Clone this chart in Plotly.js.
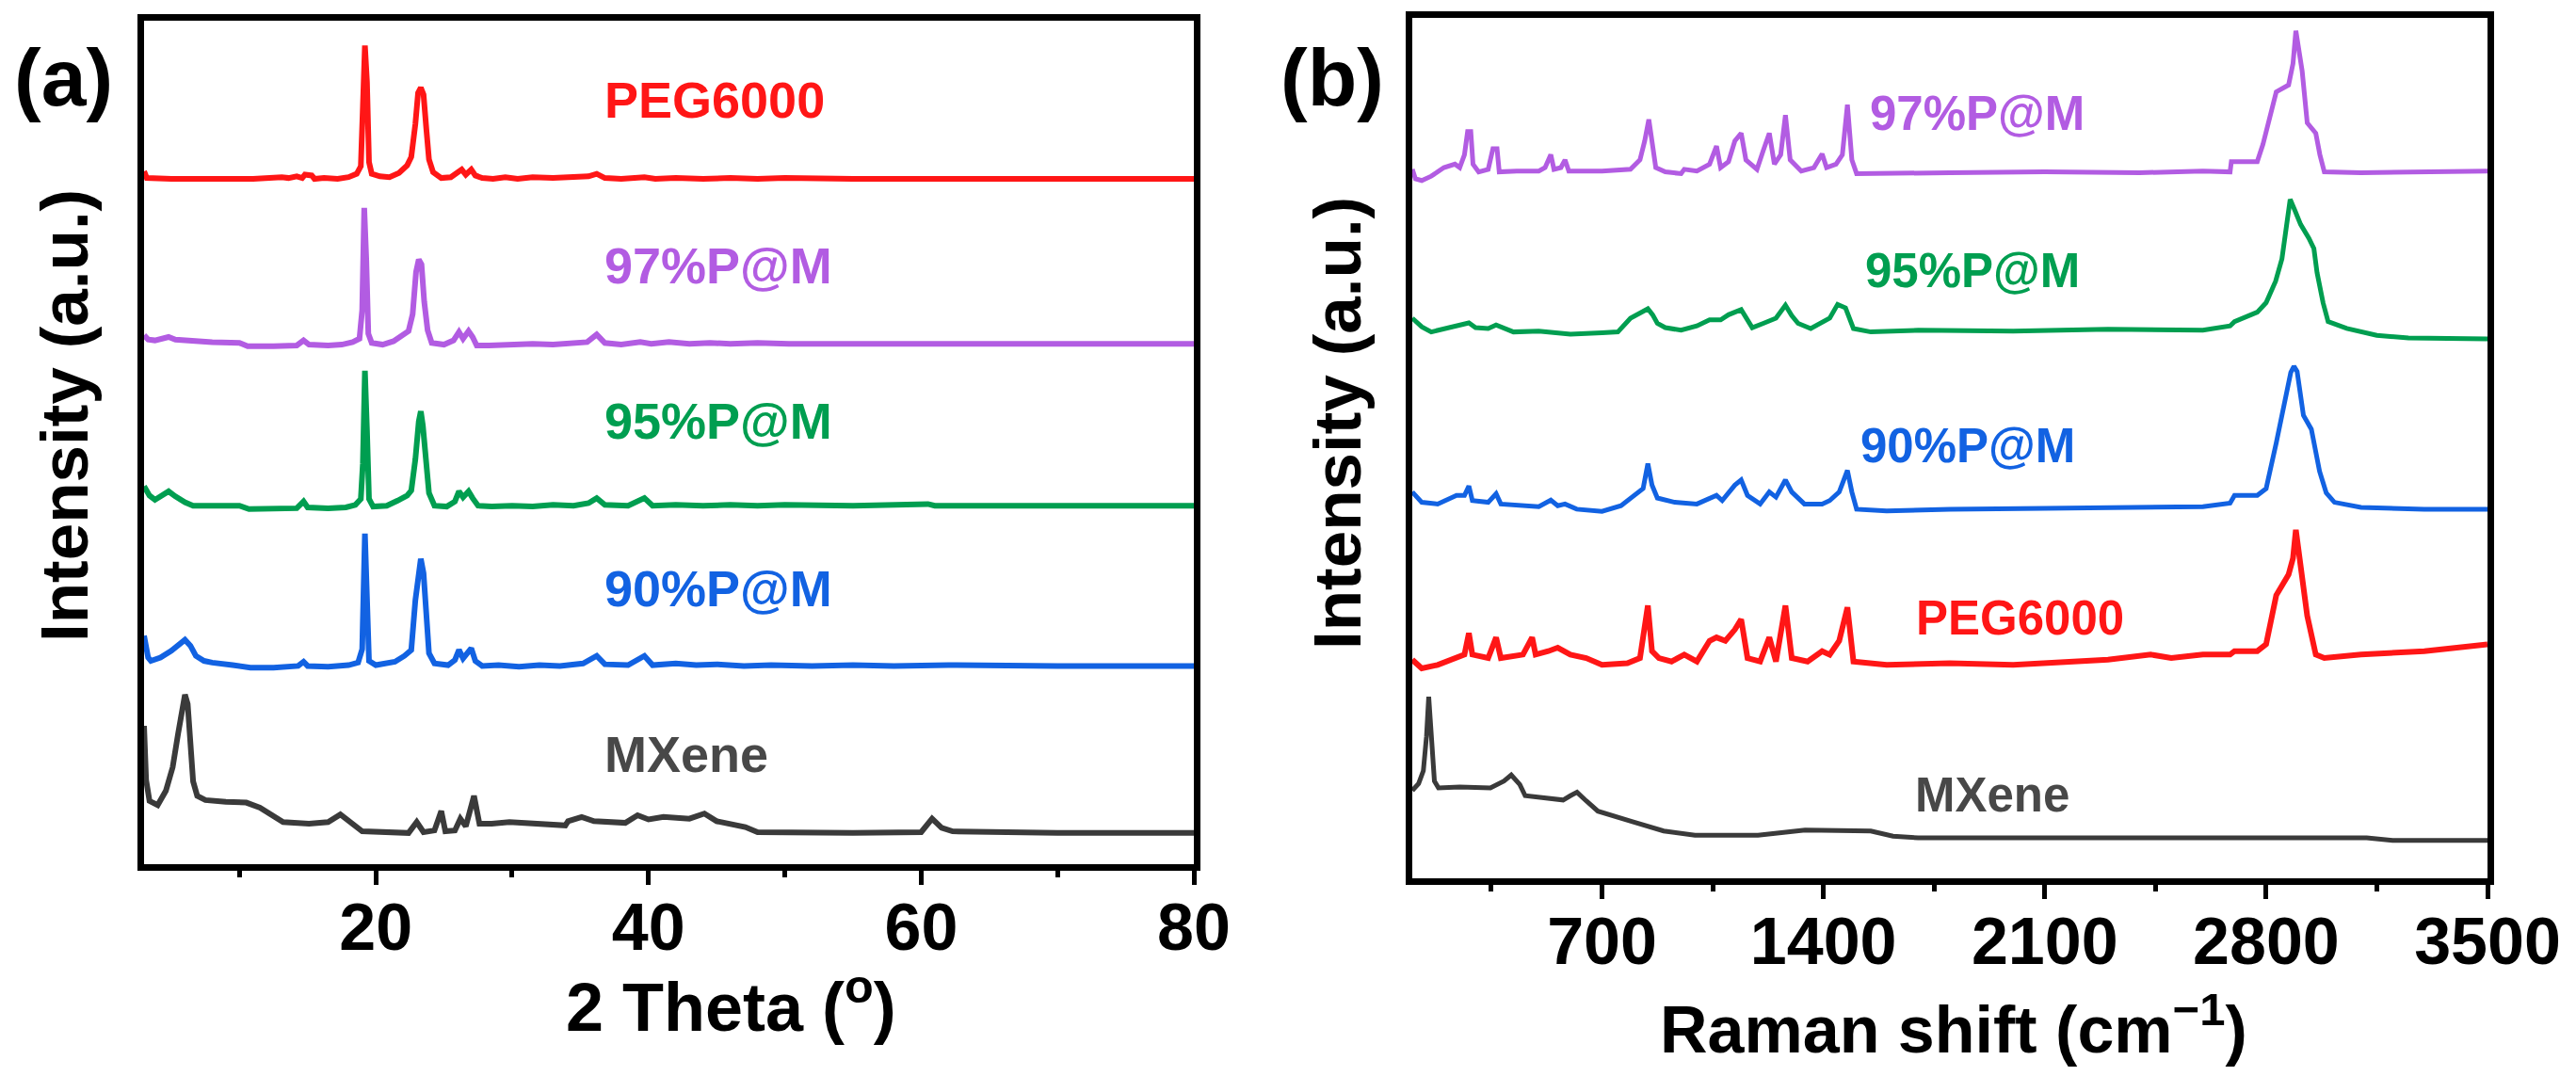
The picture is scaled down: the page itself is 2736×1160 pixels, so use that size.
<!DOCTYPE html>
<html>
<head>
<meta charset="utf-8">
<script src="https://cdn.plot.ly/plotly-3.0.1.min.js"></script>
<style>
  html, body { margin: 0; padding: 0; background: #fff; }
  #plot { width: 2736px; height: 1160px; }
</style>
</head>
<body>
<div id="plot"></div>
<script>
// ---- data ----
// (a) XRD, net intensity above each trace's own baseline (a.u.), [2theta, I]
const xrdPEG = [[3.0,0.9],[3.2,0.1],[5,0],[8,0],[11,0],[13.1,0.2],[13.6,0.1],[14.2,0.3],[14.6,0.1],[14.8,0.5],[15.3,0.4],[15.5,0],[16.2,0.1],[17.2,0],[18.0,0.2],[18.6,0.6],[18.9,1.5],[19.05,8.5],[19.2,15.8],[19.35,11.5],[19.5,2.0],[19.7,0.6],[20.3,0.3],[21.0,0.2],[21.7,0.7],[22.3,1.6],[22.6,2.6],[22.9,6.5],[23.1,10.2],[23.3,10.8],[23.5,10.0],[23.7,6.0],[23.9,2.3],[24.2,0.8],[24.8,0.1],[25.5,0.2],[25.9,0.7],[26.3,1.1],[26.6,0.5],[26.8,0.9],[27.0,1.1],[27.3,0.4],[27.8,0.1],[28.6,0],[29.5,0.2],[30.4,0],[31.5,0.2],[33.0,0.1],[34.5,0.2],[35.6,0.3],[36.2,0.6],[36.8,0.1],[38.0,0],[39.7,0.2],[40.5,0],[42.0,0.1],[44.0,0],[46.0,0.1],[48.0,0],[50.0,0.1],[55,0],[60,0],[70,0],[80,0]];
const xrd97 = [[3.0,1.0],[3.3,0.5],[3.8,0.4],[4.4,0.7],[4.8,0.8],[5.3,0.5],[6.5,0.3],[8.0,0.2],[10.0,0.1],[10.6,-0.3],[12.5,-0.3],[14.2,-0.2],[14.7,0.4],[15.1,-0.1],[16.5,-0.2],[17.5,-0.1],[18.3,0.2],[18.8,0.6],[19.0,4.0],[19.15,16.1],[19.3,10.0],[19.45,1.2],[19.7,0.1],[20.5,-0.1],[21.3,0.3],[21.8,0.9],[22.4,1.5],[22.7,3.5],[22.95,8.5],[23.15,10.0],[23.35,9.4],[23.55,5.0],[23.8,1.6],[24.1,0.1],[25.0,-0.1],[25.7,0.4],[26.1,1.4],[26.4,0.6],[26.8,1.5],[27.1,0.8],[27.4,-0.2],[28.3,-0.2],[30.0,-0.1],[31.5,0],[33.0,-0.1],[34.5,0.1],[35.5,0.2],[36.2,1.1],[36.8,0.1],[38.0,-0.1],[39.4,0.2],[40.2,0],[41.5,0.2],[43.0,0],[44.5,0.1],[46.0,0],[48.0,0.1],[50.3,0],[55,0],[60,0],[70,0],[80,0]];
const xrd95 = [[3.0,2.3],[3.4,1.2],[3.8,0.7],[4.3,1.2],[4.8,1.7],[5.3,1.1],[6.0,0.4],[6.6,0],[8.0,0],[10.0,0],[10.7,-0.4],[12.5,-0.4],[14.2,-0.3],[14.7,0.5],[15.0,-0.2],[16.5,-0.3],[17.8,-0.2],[18.5,0.1],[18.9,0.8],[19.05,5.0],[19.2,16.0],[19.35,9.0],[19.5,0.8],[19.8,-0.1],[20.8,0],[21.6,0.6],[22.3,1.2],[22.6,1.8],[22.9,5.5],[23.15,10.0],[23.3,11.2],[23.45,9.5],[23.65,6.5],[23.9,1.5],[24.3,0],[25.2,-0.1],[25.8,0.5],[26.1,1.7],[26.4,1.0],[26.8,1.7],[27.1,0.9],[27.5,0],[28.5,-0.1],[30.0,0],[31.5,-0.1],[33.0,0.1],[34.5,0],[35.6,0.3],[36.2,0.9],[36.8,0.1],[38.5,0],[39.7,0.9],[40.3,0],[42.0,0.1],[44.0,0],[46.0,0.1],[48.0,0],[50.0,0.1],[55.0,0],[60.5,0.2],[61,0],[70,0],[80,0]];
const xrd90 = [[3.0,3.6],[3.3,1.0],[3.5,0.6],[4.2,1.0],[5.0,1.8],[5.6,2.7],[6.0,3.1],[6.4,2.4],[6.8,1.2],[7.4,0.6],[8.0,0.4],[9.5,0.1],[10.8,-0.2],[12.5,-0.2],[14.3,0],[14.7,0.5],[15.0,0],[16.5,-0.1],[18.0,0.1],[18.7,0.4],[19.0,2.0],[19.2,15.7],[19.35,10.0],[19.5,0.6],[20.0,0.1],[21.4,0.5],[22.1,1.2],[22.6,1.9],[22.9,7.8],[23.15,11.5],[23.3,12.7],[23.5,11.0],[23.7,5.5],[23.9,1.5],[24.3,0.3],[25.3,0.1],[25.8,0.7],[26.1,1.9],[26.4,0.9],[26.7,1.5],[27.0,2.1],[27.3,0.6],[27.8,0],[29.0,0.1],[30.5,-0.1],[32.0,0.1],[33.5,0],[35.2,0.3],[36.2,1.2],[36.8,0.2],[38.5,0.1],[39.7,1.2],[40.3,0.1],[42.0,0.3],[43.5,0.1],[45.0,0.2],[47.0,0],[49.0,0.1],[52.0,0],[55.0,0.1],[58.0,0],[62.0,0.1],[65.0,0],[70,0],[80,0]];
const xrdMX = [[3.0,16.4],[3.15,10.0],[3.4,7.5],[4.0,7.0],[4.6,8.7],[5.1,11.5],[5.5,15.5],[5.85,19.5],[6.0,20.1],[6.2,19.0],[6.4,14.0],[6.6,9.8],[6.9,8.1],[7.5,7.6],[9.0,7.4],[10.5,7.3],[11.5,6.7],[12.5,5.8],[13.2,5.0],[15.1,4.8],[16.5,5.0],[17.4,5.9],[18.2,4.8],[19.0,3.9],[22.4,3.7],[23.0,5.0],[23.5,3.8],[24.3,4.0],[24.8,6.3],[25.1,3.9],[25.8,4.0],[26.2,5.4],[26.6,4.5],[27.2,8.1],[27.6,4.8],[28.5,4.8],[29.8,5.0],[32.0,4.8],[33.9,4.6],[34.1,5.1],[35.1,5.6],[36.0,5.1],[38.3,4.9],[39.2,5.8],[40.0,5.3],[41.1,5.6],[43.0,5.4],[44.1,6.0],[45.0,5.1],[47.1,4.4],[48.0,3.8],[55.0,3.7],[60.0,3.8],[60.8,5.4],[61.5,4.3],[62.3,3.9],[70.0,3.7],[80.0,3.7]];

// (b) Raman, [shift cm-1, I]
const ram97 = [[100,0.3],[110,-0.8],[130,-1.0],[160,-0.5],[200,0.5],[235,0.9],[250,0.5],[265,2.0],[275,4.7],[285,4.7],[292,0.9],[310,0],[340,0.3],[355,2.7],[368,2.7],[375,0],[430,0.1],[500,0.1],[520,0.5],[538,2.0],[548,0.3],[570,0.5],[583,1.4],[595,0.1],[700,0.1],[790,0.3],[820,1.4],[835,3.6],[848,6.1],[858,3.6],[870,0.5],[900,0],[950,-0.2],[960,0.3],[1000,0.1],[1040,0.9],[1062,3.0],[1075,0.5],[1100,1.2],[1120,3.6],[1140,4.5],[1155,1.4],[1190,0.3],[1210,2.5],[1229,4.5],[1245,0.9],[1265,2.0],[1280,6.6],[1295,1.4],[1330,0.1],[1370,0.5],[1396,2.1],[1410,0.5],[1440,0.9],[1460,2.0],[1476,7.8],[1490,1.4],[1505,-0.2],[1600,-0.2],[1800,-0.1],[2100,0],[2400,-0.1],[2600,0.1],[2686,0],[2690,1.2],[2772,1.2],[2790,3.2],[2832,9.3],[2871,10.1],[2885,12.6],[2894,16.4],[2905,14.2],[2914,11.7],[2930,5.7],[2957,4.5],[2970,2.0],[2984,0],[3100,-0.1],[3300,0],[3500,0.1]];
const ram95 = [[100,1.2],[130,0.2],[160,-0.4],[200,0],[240,0.3],[279,0.65],[300,0.1],[340,0],[365,0.4],[420,-0.4],[500,-0.3],[600,-0.65],[700,-0.5],[750,-0.4],[790,1.2],[820,1.8],[845,2.3],[860,1.6],[875,0.6],[900,0.1],[950,-0.2],[1000,0.3],[1040,1.0],[1075,1.0],[1100,1.6],[1140,2.2],[1160,1.0],[1175,0.1],[1210,0.6],[1250,1.2],[1280,2.7],[1300,1.5],[1320,0.6],[1360,0],[1420,1.2],[1445,2.8],[1470,2.4],[1495,0],[1550,-0.4],[1700,-0.2],[2000,-0.3],[2300,-0.1],[2600,-0.2],[2686,0.3],[2700,0.8],[2772,1.9],[2800,3.0],[2830,5.5],[2850,8.1],[2865,12.0],[2876,15.0],[2890,13.8],[2909,12.1],[2935,10.5],[2951,9.3],[2961,6.5],[2980,3.0],[2996,0.8],[3055,0],[3150,-0.8],[3250,-1.1],[3500,-1.2]];
const ram90 = [[100,1.6],[130,0.4],[180,0.2],[240,1.2],[265,1.2],[279,2.3],[290,0.6],[340,0.4],[365,1.4],[380,0.2],[500,-0.1],[538,0.65],[560,0],[583,0.2],[620,-0.4],[700,-0.65],[760,0],[800,1.2],[830,2.0],[845,4.9],[858,2.4],[875,0.9],[930,0.4],[1000,0.2],[1062,1.2],[1080,0.6],[1120,2.4],[1140,3.0],[1160,1.2],[1200,0.2],[1229,1.6],[1250,1.0],[1280,3.0],[1300,1.6],[1340,0.2],[1396,0.2],[1420,0.6],[1450,1.6],[1476,4.1],[1490,1.6],[1505,-0.4],[1600,-0.6],[1800,-0.4],[2100,-0.3],[2400,-0.2],[2600,-0.1],[2686,0.3],[2700,1.2],[2772,1.2],[2800,2.0],[2832,7.3],[2860,12.0],[2878,15.5],[2888,16.2],[2898,15.6],[2918,10.5],[2943,8.9],[2969,4.0],[2990,1.5],[3016,0.4],[3100,-0.2],[3300,-0.4],[3500,-0.4]];
const ramPEG = [[100,0.2],[130,-0.8],[180,-0.4],[230,0.4],[265,0.8],[279,3.3],[290,0.8],[340,0.4],[365,2.8],[380,0.4],[450,0.8],[479,2.8],[490,0.8],[530,1.2],[560,1.6],[600,0.8],[650,0.4],[700,-0.4],[780,-0.2],[820,0.4],[845,6.5],[858,1.2],[880,0.4],[920,0],[960,0.8],[1000,0],[1040,2.4],[1062,2.8],[1090,2.4],[1120,3.7],[1140,4.9],[1160,0.4],[1200,0],[1229,2.8],[1250,0],[1280,6.5],[1300,0.4],[1350,0],[1396,1.2],[1420,0.8],[1450,2.4],[1476,6.3],[1495,0],[1600,-0.4],[1800,-0.2],[2000,-0.4],[2200,0],[2300,0.2],[2435,0.8],[2500,0.4],[2600,0.8],[2686,0.8],[2700,1.2],[2772,1.2],[2800,2.0],[2832,7.7],[2871,10.1],[2885,12.0],[2894,15.3],[2905,12.0],[2912,10.1],[2930,5.3],[2957,0.8],[2984,0.4],[3100,0.8],[3300,1.2],[3500,2.0]];
const ramMX = [[100,10.2],[120,11.0],[135,12.5],[145,16.5],[152,21.1],[160,16.7],[170,11.3],[183,10.5],[250,10.6],[347,10.5],[390,11.3],[413,12.0],[440,10.9],[457,9.6],[577,9.1],[600,9.6],[621,10.0],[650,9.0],[687,7.8],[794,6.6],[895,5.5],[994,5.0],[1193,5.0],[1342,5.6],[1440,5.6],[1550,5.5],[1620,4.9],[1700,4.7],[2292,4.7],[3118,4.7],[3200,4.4],[3500,4.4]];

const labels = ['PEG6000', '97%P@M', '95%P@M', '90%P@M', 'MXene'];
const xTicksA = [20, 40, 60, 80];
const xTicksB = [700, 1400, 2100, 2800, 3500];

// ---- styling ----
const W = 2736, H = 1160;
const FONT = 'Liberation Sans, Arial, sans-serif';
const COL = { peg: 'rgb(255,22,22)', p97: 'rgb(178,92,226)', p95: 'rgb(0,158,80)', p90: 'rgb(18,98,226)', mx: 'rgb(58,58,58)' };
const fx = x => x / W;           // pixel -> paper
const fy = y => 1 - y / H;

function trace(pts, off, color, width, xa, ya) {
	return {
		x: pts.map(p => p[0]),
		y: pts.map(p => p[1] + off),
		type: 'scatter', mode: 'lines', xaxis: xa, yaxis: ya,
		line: { color: color, width: width }, hoverinfo: 'skip', showlegend: false
	};
}

// stacking offsets (plot units)
const traces = [
	trace(xrdMX, 0, COL.mx, 6, 'x', 'y'),
	trace(xrd90, 23.5, COL.p90, 6, 'x', 'y'),
	trace(xrd95, 42.5, COL.p95, 6, 'x', 'y'),
	trace(xrd97, 61.7, COL.p97, 6, 'x', 'y'),
	trace(xrdPEG, 81.25, COL.peg, 6, 'x', 'y'),
	trace(ramMX, 0, COL.mx, 5, 'x2', 'y2'),
	trace(ramPEG, 25.2, COL.peg, 6, 'x2', 'y2'),
	trace(ram90, 43.3, COL.p90, 5, 'x2', 'y2'),
	trace(ram95, 63.9, COL.p95, 5, 'x2', 'y2'),
	trace(ram97, 82.1, COL.p97, 5, 'x2', 'y2')
];

const tickfont = { family: FONT, size: 70, color: '#000', weight: 'bold' };
function xax(dom, range, vals, dminor, anchor) {
	return {
		domain: dom, range: range, anchor: anchor,
		showline: true, mirror: true, linewidth: 7, linecolor: '#000',
		ticks: 'outside', ticklen: 15, tickwidth: 5, tickcolor: '#000',
		ticklabelstandoff: -15,
		tickvals: vals, ticktext: vals.map(String), tickfont: tickfont,
		minor: { dtick: dminor, tick0: 0, ticks: 'outside', ticklen: 7, tickwidth: 5, tickcolor: '#000' },
		showgrid: false, zeroline: false
	};
}
function yax(dom, anchor) {
	return {
		domain: dom, range: [0, 100], anchor: anchor,
		showline: true, mirror: true, linewidth: 7, linecolor: '#000',
		ticks: '', showticklabels: false, showgrid: false, zeroline: false
	};
}

function ann(text, x, y, size, color, extra) {
	return Object.assign({
		text: text, x: x, y: y, showarrow: false,
		font: { family: FONT, size: size, color: color, weight: 'bold' }
	}, extra || {});
}
const paper = { xref: 'paper', yref: 'paper', xanchor: 'center', yanchor: 'middle' };

const annotations = [
	ann('(a)', fx(67), fy(82), 86, '#000', paper),
	ann('(b)', fx(1415), fy(82), 86, '#000', paper),
	ann('Intensity (a.u.)', fx(68), fy(442), 71, '#000', Object.assign({ textangle: -90 }, paper)),
	ann('Intensity (a.u.)', fx(1420), fy(450), 71, '#000', Object.assign({ textangle: -90 }, paper)),
	ann('2 Theta (<sup>o</sup>)', fx(776), fy(1064), 72, '#000', paper),
	ann('Raman shift (cm<sup>\u22121</sup>)', fx(2075), fy(1089), 70, '#000', paper),
	// panel (a) sample labels
	ann(labels[0], 36.6, 90.6, 54, COL.peg, { xref: 'x', yref: 'y', xanchor: 'left' }),
	ann(labels[1], 36.6, 71.0, 54, COL.p97, { xref: 'x', yref: 'y', xanchor: 'left' }),
	ann(labels[2], 36.6, 52.6, 54, COL.p95, { xref: 'x', yref: 'y', xanchor: 'left' }),
	ann(labels[3], 36.6, 32.7, 54, COL.p90, { xref: 'x', yref: 'y', xanchor: 'left' }),
	ann(labels[4], 36.6, 13.1, 54, 'rgb(72,72,72)', { xref: 'x', yref: 'y', xanchor: 'left' }),
	// panel (b) sample labels
	ann(labels[1], 1887, 88.9, 51, COL.p97, { xref: 'x2', yref: 'y2' }),
	ann(labels[2], 1872, 70.6, 51, COL.p95, { xref: 'x2', yref: 'y2' }),
	ann(labels[3], 1857, 50.3, 51, COL.p90, { xref: 'x2', yref: 'y2' }),
	ann(labels[0], 2021, 30.3, 51, COL.peg, { xref: 'x2', yref: 'y2' }),
	ann(labels[4], 1935, 9.7, 51, 'rgb(72,72,72)', { xref: 'x2', yref: 'y2' })
];

const layout = {
	width: W, height: H,
	margin: { l: 0, r: 0, t: 0, b: 0 },
	paper_bgcolor: '#fff', plot_bgcolor: '#fff',
	showlegend: false,
	xaxis: xax([fx(153), fx(1268)], [3, 80], xTicksA, 10, 'y'),
	yaxis: yax([fy(918), fy(22)], 'x'),
	xaxis2: xax([fx(1500), fx(2642)], [100, 3500], xTicksB, 350, 'y2'),
	yaxis2: yax([fy(933), fy(19)], 'x2'),
	annotations: annotations
};

Plotly.newPlot('plot', traces, layout, { staticPlot: true });
</script>
</body>
</html>
